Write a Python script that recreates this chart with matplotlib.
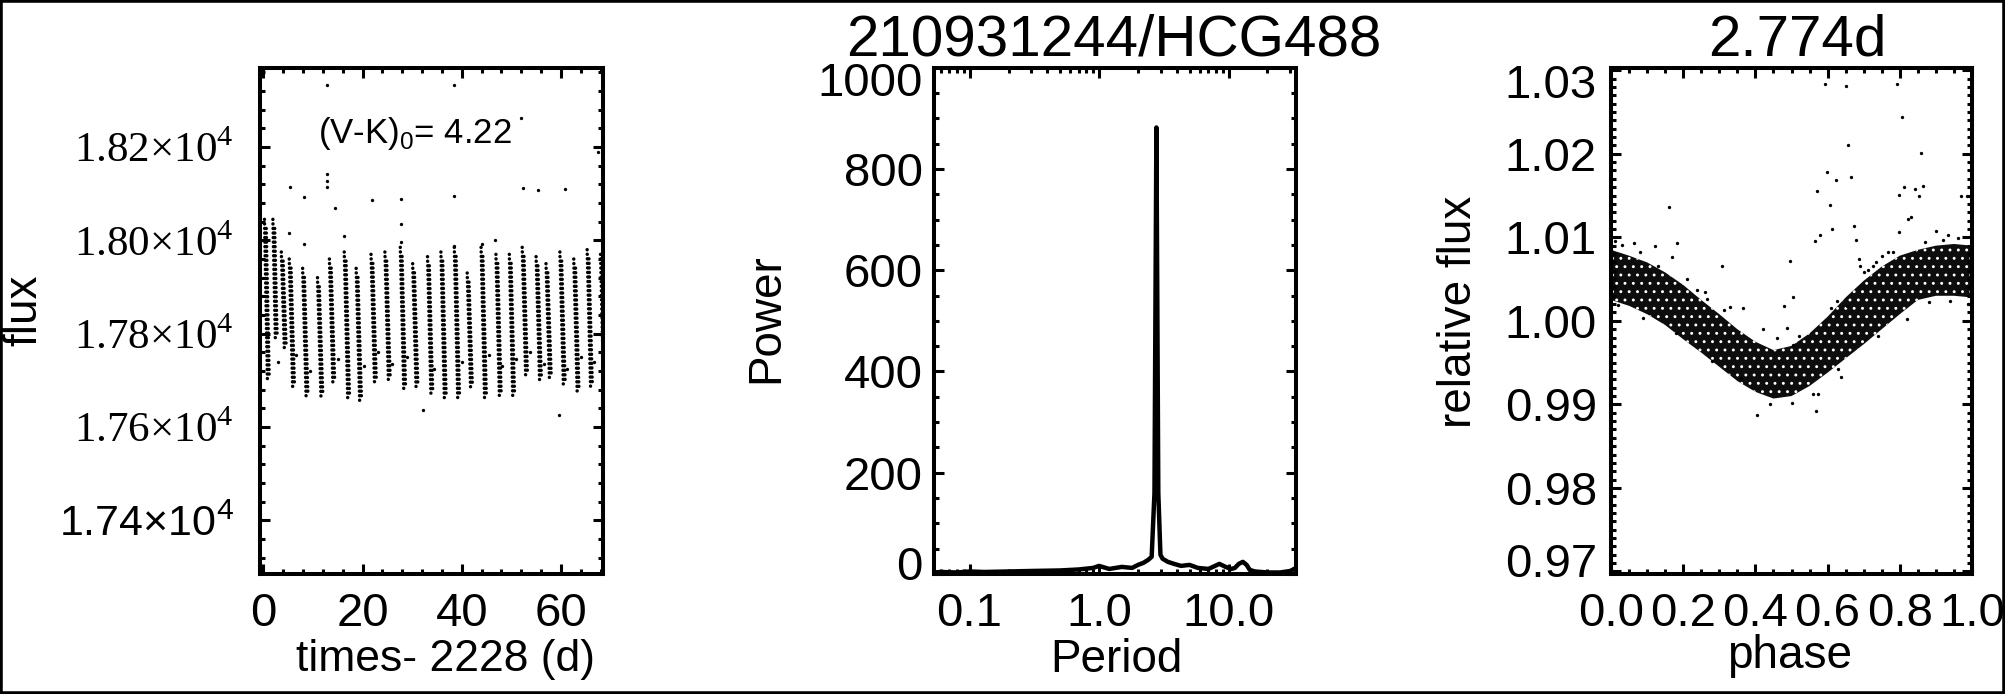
import matplotlib
matplotlib.use('Agg')
import matplotlib.pyplot as plt
from matplotlib.ticker import MultipleLocator, LogLocator, NullFormatter
from matplotlib.patches import Rectangle

plt.rcParams['font.family'] = ['Liberation Sans', 'DejaVu Sans']
plt.rcParams['mathtext.fontset'] = 'custom'
plt.rcParams['mathtext.rm'] = 'Liberation Serif'
plt.rcParams['mathtext.sf'] = 'Liberation Sans'
plt.rcParams['hatch.linewidth'] = 0.9

W, H = 2005, 694

# ---- light curve (left): dotted streaks, one per rotation
streak_t_top = [0.2, 1.9, 3.6, 5.2, 7.9, 10.9, 13.3, 16.3, 18.7, 21.7, 24.5, 27.6, 30.1,
                33.1, 35.8, 38.5, 41.1, 43.9, 46.9, 49.6, 52.2, 55.0, 57.0, 59.8, 62.6,
                65.3, 68.0]
streak_f_top = [18045, 18045, 17975, 17960, 17940, 17920, 17960, 17975, 17940, 17970,
                17975, 17985, 17950, 17965, 17975, 17985, 17930, 17985, 17970, 17970,
                17985, 17965, 17950, 17975, 17960, 17980, 17970]
streak_t_bot = [0.8, 2.4, 4.2, 5.9, 8.6, 11.6, 14.0, 17.0, 19.4, 22.4, 25.2, 28.3, 30.8,
                33.8, 36.5, 39.2, 41.8, 44.6, 47.6, 50.3, 52.9, 55.7, 57.7, 60.5, 63.3,
                66.0, 68.7]
streak_f_bot = [17700, 17785, 17770, 17680, 17665, 17665, 17695, 17660, 17657, 17695,
                17700, 17680, 17678, 17663, 17657, 17657, 17678, 17663, 17663, 17660,
                17706, 17700, 17700, 17690, 17670, 17680, 17650]
# isolated points off the streaks
lc_out_t = [12.8, 38.4, 5.3, 8.1, 21.9, 27.7, 38.4, 52.3, 55.3, 12.8, 12.8, 12.8, 14.4,
            5.2, 8.1, 16.2, 32.1, 59.7, 52.0, 27.7, 27.7, 38.4, 46.7, 44.0, 60.8, 67.5,
            2.9, 6.6, 9.4, 15.0, 20.3, 23.1, 26.0, 29.0, 34.5, 40.0, 45.4, 48.2, 51.0,
            53.7, 56.5, 61.2, 64.0, 66.7]
lc_out_f = [18333, 18333, 18114, 18093, 18087, 18089, 18095, 18113, 18108, 18142, 18128,
            18115, 18070, 18016, 17993, 18010, 17637, 17625, 18262, 18035, 17997, 17987,
            18001, 17992, 18110, 18189,
            17740, 17755, 17720, 17745, 17730, 17760, 17735, 17750, 17725, 17740, 17755,
            17730, 17745, 17760, 17735, 17725, 17750, 17740]

# ---- periodogram (middle)
period = [0.0527, 0.06, 0.08, 0.1, 0.13, 0.2, 0.3, 0.5, 0.7, 0.9, 1.0, 1.2, 1.5, 1.8,
          2.0, 2.2, 2.4, 2.55, 2.68, 2.774, 2.87, 2.98, 3.1, 3.4, 3.8, 4.3, 5.0, 5.8,
          7.0, 8.5, 9.5, 10.5, 11.2, 12.0, 12.9, 13.8, 14.6, 16.0, 20.0, 25.0, 30.0, 33.2]
power = [3, 4, 3, 5, 4, 5, 6, 7, 9, 12, 16, 10, 14, 12, 18, 22, 28, 34, 160, 882, 160,
         38, 30, 24, 20, 16, 18, 12, 10, 20, 14, 10, 12, 20, 24, 18, 8, 5, 3, 3, 6, 12]

# ---- phase-folded curve (right): envelope of the dense band + scattered points
phase_bin = [0.00, 0.05, 0.10, 0.15, 0.20, 0.25, 0.30, 0.35, 0.40, 0.45, 0.50, 0.55,
             0.60, 0.65, 0.70, 0.75, 0.80, 0.85, 0.90, 0.95, 1.00]
band_lo = [1.0025, 1.0018, 1.0008, 0.9995, 0.9978, 0.9962, 0.9945, 0.9928, 0.9915,
           0.9907, 0.9910, 0.9922, 0.9938, 0.9955, 0.9972, 0.9990, 1.0008, 1.0025,
           1.0030, 1.0030, 1.0028]
band_hi = [1.0085, 1.0078, 1.0070, 1.0058, 1.0043, 1.0025, 1.0008, 0.9990, 0.9975,
           0.9965, 0.9970, 0.9985, 1.0005, 1.0028, 1.0048, 1.0065, 1.0078, 1.0085,
           1.0090, 1.0092, 1.0090]
ph_out = [0.594, 0.652, 0.791, 0.805, 0.656, 0.858, 0.598, 0.623, 0.664, 0.570, 0.813,
          0.842, 0.865, 0.797, 0.853, 0.970, 0.161, 0.607, 0.612, 0.564, 0.674, 0.680,
          0.578, 0.121, 0.184, 0.063, 0.169, 0.307, 0.495, 0.238, 0.265, 0.313, 0.367,
          0.504, 0.479, 0.488, 0.504, 0.404, 0.568, 0.574, 0.637, 0.963, 0.986, 0.797,
          0.823, 0.830, 0.900, 0.933, 0.767, 0.735, 0.687, 0.690, 0.726, 0.712, 0.751,
          0.626, 0.655,
          0.010, 0.030, 0.080, 0.130, 0.210, 0.260, 0.330, 0.420, 0.460, 0.520, 0.610,
          0.700, 0.780, 0.870, 0.920, 0.960, 0.020, 0.090, 0.180, 0.280, 0.360, 0.440,
          0.500, 0.560, 0.630, 0.740, 0.820, 0.880, 0.940, 0.990]
rf_out = [1.0284, 1.0281, 1.0284, 1.0244, 1.0210, 1.0201, 1.0178, 1.0168, 1.0172, 1.0155,
          1.0160, 1.0158, 1.0162, 1.0151, 1.0149, 1.0149, 1.0136, 1.0139, 1.0110, 1.0095,
          1.0114, 1.0097, 1.0103, 1.0090, 1.0093, 1.0093, 1.0077, 1.0066, 1.0072, 1.0037,
          1.0026, 1.0013, 1.0015, 1.0029, 1.0018, 0.9992, 0.9971, 0.9887, 0.9892, 0.9913,
          0.9933, 1.0034, 1.0149, 1.0106, 1.0122, 1.0124, 1.0108, 1.0103, 1.0082, 1.0071,
          1.0074, 1.0066, 1.0066, 1.0061, 1.0078, 1.0024, 1.0018,
          1.0096, 1.0091, 1.0083, 1.0066, 1.0050, 1.0034, 1.0016, 0.9990, 0.9980, 0.9982,
          1.0015, 1.0058, 1.0082, 1.0094, 1.0097, 1.0099, 1.0019, 1.0003, 0.9985, 0.9952,
          0.9932, 0.9901, 0.9902, 0.9912, 0.9942, 0.9982, 1.0002, 1.0022, 1.0024, 1.0020]

power_ticks = [0, 200, 400, 600, 800, 1000]
power_labels = ['0', '200', '400', '600', '800', '1000']
rel_ticks = [0.97, 0.98, 0.99, 1.00, 1.01, 1.02, 1.03]
rel_labels = ['0.97', '0.98', '0.99', '1.00', '1.01', '1.02', '1.03']


def px_axes(x0, y0, x1, y1):
    return fig.add_axes([x0 / W, 1 - y1 / H, (x1 - x0) / W, (y1 - y0) / H])


def idl_style(ax):
    for s in ax.spines.values():
        s.set_linewidth(2.9)
    ax.tick_params(which='both', direction='in', top=True, right=True, width=2.2,
                   labelsize=34)
    ax.tick_params(which='major', length=7)
    ax.tick_params(which='minor', length=3.5)


def y_labels(ax, ticks, labels, pad_px):
    # IDL nudges the first and last y labels a little inside the axis range
    ax.set_yticks(ticks, [''] * len(ticks))
    for i, (v, s) in enumerate(zip(ticks, labels)):
        dy = 11 if i == 0 else (-11 if i == len(ticks) - 1 else 0)
        ax.annotate(s, xy=(0, v), xycoords=('axes fraction', 'data'),
                    xytext=(-pad_px, dy), textcoords='offset pixels',
                    ha='right', va='center_baseline', fontsize=34)


def ftext(x, y, s, **kw):
    fig.text(x / W, 1 - y / H, s, **kw)


fig = plt.figure(figsize=(W / 100, H / 100), dpi=100)

# left panel
ax1 = px_axes(260, 67.7, 603, 574)
idl_style(ax1)
for t0, f0, t1, f1 in zip(streak_t_top, streak_f_top, streak_t_bot, streak_f_bot):
    # two interleaved dotted columns give the width of the noisy streak
    ax1.plot([t0, t1], [f0, f1], color='k', lw=2.5, ls=(0, (0.01, 1.3)),
             dash_capstyle='round')
    ax1.plot([t0 + 0.35, t1 + 0.35], [f0 - 15, f1 + 10], color='k', lw=2.5,
             ls=(0.7, (0.01, 1.3)), dash_capstyle='round')
ax1.plot(lc_out_t, lc_out_f, 'o', color='k', ms=2.4, mew=0)
ax1.set_xlim(-0.7, 68.5)
ax1.set_ylim(17285, 18370)
ax1.xaxis.set_major_locator(MultipleLocator(20))
ax1.xaxis.set_minor_locator(MultipleLocator(4))
ax1.yaxis.set_minor_locator(MultipleLocator(40))
ax1.set_yticks([17400, 17600, 17800, 18000, 18200],
               [r'1.74×$\mathsf{10}^\mathsf{4}$', r'1.76×$10^4$', r'1.78×$10^4$',
                r'1.80×$10^4$', r'1.82×$10^4$'])
for i, lab in enumerate(ax1.get_yticklabels()):
    lab.set_family('Liberation Sans' if i == 0 else 'Liberation Serif')
    lab.set_fontsize(31)
ax1.tick_params(axis='y', pad=19)
ax1.tick_params(axis='x', pad=13)

# middle panel
ax2 = px_axes(933.5, 67.7, 1296, 574)
idl_style(ax2)
ax2.plot(period, power, color='k', lw=3.2)
ax2.set_xscale('log')
ax2.set_xlim(0.0527, 33.2)
ax2.set_ylim(0, 1000)
ax2.xaxis.set_minor_locator(LogLocator(base=10, subs=range(2, 10), numticks=20))
ax2.xaxis.set_minor_formatter(NullFormatter())
ax2.set_xticks([0.1, 1, 10], ['0.1', '1.0', '10.0'])
y_labels(ax2, power_ticks, power_labels, 11)
ax2.yaxis.set_minor_locator(MultipleLocator(50))
ax2.tick_params(axis='x', pad=13)

# right panel
ax3 = px_axes(1611, 67.7, 1972, 574)
idl_style(ax3)
ax3.fill_between(phase_bin, band_lo, band_hi, facecolor='#0d0d0d', edgecolor='white',
                 hatch='..', lw=0)
ax3.plot(ph_out, rf_out, 'o', color='k', ms=2.4, mew=0)
ax3.set_xlim(0, 1)
ax3.set_ylim(0.9697, 1.0303)
ax3.xaxis.set_major_locator(MultipleLocator(0.2))
ax3.xaxis.set_minor_locator(MultipleLocator(0.05))
ax3.xaxis.set_major_formatter('{x:.1f}')
y_labels(ax3, rel_ticks, rel_labels, 14)
ax3.yaxis.set_minor_locator(MultipleLocator(0.001))
ax3.tick_params(axis='x', pad=13)

# labels and titles
ftext(24, 310, 'flux', rotation=90, ha='center', va='center', fontsize=33)
ftext(766, 318, 'Power', rotation=90, ha='center', va='center', fontsize=33)
ftext(1459, 312, 'relative flux', rotation=90, ha='center', va='center', fontsize=33)
ftext(445, 660, 'times- 2228 (d)', ha='center', va='center', fontsize=32)
ftext(1116, 660, 'Period', ha='center', va='center', fontsize=33)
ftext(1790, 656, 'phase', ha='center', va='center', fontsize=33)
ftext(1114, 55, '210931244/HCG488', ha='center', va='baseline', fontsize=42)
ftext(1797, 55, '2.774d', ha='center', va='baseline', fontsize=42)
ftext(318, 133, r'(V-K)$_\mathsf{0}$= 4.22', ha='left', va='center', fontsize=25)

fig.patches.append(Rectangle((0, 0), 1, 1, transform=fig.transFigure, fill=False,
                             lw=4, ec='k'))

fig.savefig('out.png', dpi=100, facecolor='white')
